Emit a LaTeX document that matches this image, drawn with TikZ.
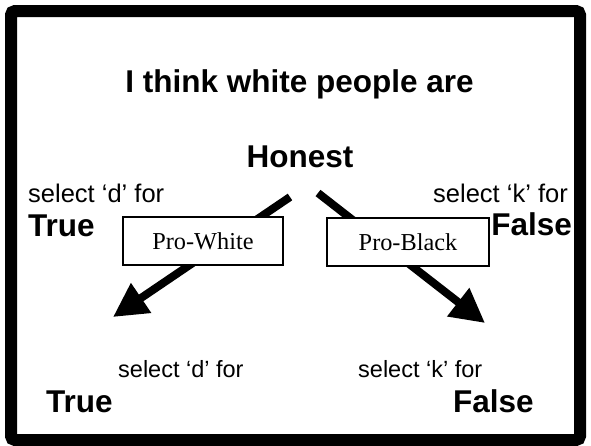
\documentclass[tikz,border=0pt]{standalone}
\usepackage{fontspec}
\setmainfont{Liberation Sans}
\newfontfamily\timesf{Liberation Serif}
\usetikzlibrary{arrows.meta}
\begin{document}
\begin{tikzpicture}[x=1pt,y=-1pt,
  big/.style={inner sep=0pt,font=\fontsize{31.5}{32}\selectfont\bfseries},
  sel/.style={inner sep=0pt,font=\fontsize{25.5}{26}\selectfont},
  selb/.style={inner sep=0pt,font=\fontsize{23.5}{24}\selectfont},
  probox/.style={draw,line width=1.3pt,fill=white,minimum width=160pt,minimum height=48pt,inner sep=0pt,font=\timesf\fontsize{24.3}{25}\selectfont},
  bigarrow/.style={line width=8pt,-{Triangle[length=34pt,width=34pt]}}]
\useasboundingbox (0,0) rectangle (591,445);
\fill[white] (0,0) rectangle (591,445);
\draw[line width=12pt,rounded corners=4pt] (11,11) rectangle (580,440);
\node[big,anchor=base] (title) at (299.5,92) {I think white people are};
\node[big,anchor=base] (honest) at (300,167) {Honest};
\node[sel,anchor=base west] (seld) at (28,202) {select ‘d’ for};
\node[big,anchor=base west] (true1) at (28,236) {True};
\node[sel,anchor=base east] (selk) at (568,202) {select ‘k’ for};
\node[big,anchor=base east] (false1) at (572,235) {False};
\coordinate (la) at (290,197);
\coordinate (lb) at (113,317);
\coordinate (ra) at (318,193);
\coordinate (rb) at (485,323);
\draw[bigarrow] (la) -- (lb);
\draw[bigarrow] (ra) -- (rb);
\node[probox] (pw) at (203,241) {Pro-White};
\node[probox,minimum width=162pt] (pb) at (408,242) {Pro-Black};
\node[selb,anchor=base west] (seld2) at (118,377) {select ‘d’ for};
\node[big,anchor=base west] (true2) at (46,412) {True};
\node[selb,anchor=base west] (selk2) at (358,377) {select ‘k’ for};
\node[big,anchor=base west] (false2) at (453,412) {False};
\end{tikzpicture}
\end{document}
